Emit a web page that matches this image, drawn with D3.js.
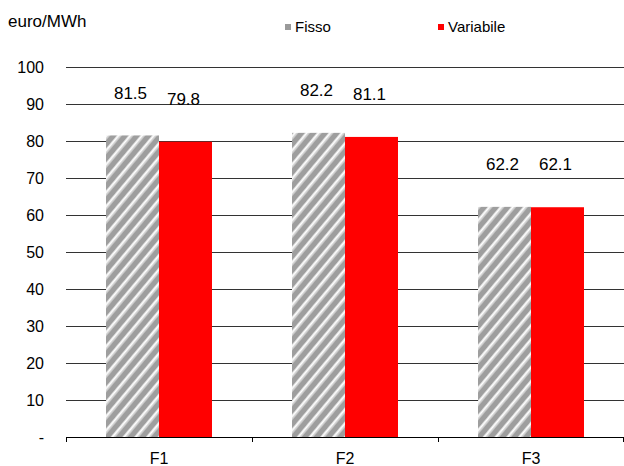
<!DOCTYPE html>
<html>
<head>
<meta charset="utf-8">
<script src="https://cdn.jsdelivr.net/npm/d3@7"></script>
<style>
  html, body { margin: 0; padding: 0; background: #fff; }
  svg { display: block; font-family: "Liberation Sans", Arial, sans-serif; }
</style>
</head>
<body>
<svg id="chart" width="624" height="466"></svg>
<script>
// Average prices by time band, fixed vs variable offers
const categories = ["F1", "F2", "F3"];
const seriesNames = ["Fisso", "Variabile"];
const fissoValues = [81.5, 82.2, 62.2];
const variabileValues = [79.8, 81.1, 62.1];
const yTicks = [0, 10, 20, 30, 40, 50, 60, 70, 80, 90, 100];
const unitLabel = "euro/MWh";

const svg = d3.select("#chart");
const plotLeft = 66, plotRight = 624, plotTop = 67, plotBottom = 437;

const y = d3.scaleLinear().domain([0, 100]).range([plotBottom, plotTop]);
const x0 = d3.scaleBand().domain(categories).range([plotLeft, plotRight]).paddingInner(0).paddingOuter(0);
const x1 = d3.scaleBand().domain(seriesNames).range([0, x0.bandwidth()]).paddingInner(0).paddingOuter(0.755);

// diagonal hatch for the fixed-price series
const defs = svg.append("defs");
const pat = defs.append("pattern")
  .attr("id", "hatch")
  .attr("patternUnits", "userSpaceOnUse")
  .attr("width", 9).attr("height", 9)
  .attr("patternTransform", "rotate(40)");
pat.append("rect").attr("width", 9).attr("height", 9).attr("fill", "#9e9e9e");
pat.append("rect").attr("x", 0).attr("width", 1).attr("height", 9).attr("fill", "#e4e4e4");
pat.append("rect").attr("x", 1).attr("width", 1.6).attr("height", 9).attr("fill", "#ffffff");
pat.append("rect").attr("x", 2.6).attr("width", 1).attr("height", 9).attr("fill", "#e4e4e4");

const fills = { "Fisso": "url(#hatch)", "Variabile": "#ff0000" };

// gridlines
svg.append("g")
  .selectAll("line")
  .data(yTicks.filter(d => d > 0))
  .join("line")
  .attr("x1", plotLeft).attr("x2", plotRight)
  .attr("y1", d => y(d) + 0.5).attr("y2", d => y(d) + 0.5)
  .attr("stroke", "#333").attr("stroke-width", 1);

// y tick labels
svg.append("g")
  .selectAll("text")
  .data(yTicks)
  .join("text")
  .attr("x", 44)
  .attr("y", d => y(d))
  .attr("dy", "0.36em")
  .attr("text-anchor", "end")
  .attr("font-size", 16)
  .attr("fill", "#000")
  .text(d => d === 0 ? "-" : d);

// bars
const rows = categories.map((c, i) => ({ cat: c, values: [
  { name: "Fisso", value: fissoValues[i] },
  { name: "Variabile", value: variabileValues[i] }
]}));

const groups = svg.append("g")
  .selectAll("g")
  .data(rows)
  .join("g")
  .attr("transform", d => `translate(${x0(d.cat)},0)`);

groups.selectAll("rect")
  .data(d => d.values)
  .join("rect")
  .attr("x", d => x1(d.name))
  .attr("width", x1.bandwidth())
  .attr("y", d => y(d.value))
  .attr("height", d => y(0) - y(d.value))
  .attr("fill", d => fills[d.name]);

groups.selectAll("text")
  .data(d => d.values)
  .join("text")
  .attr("x", d => x1(d.name) + x1.bandwidth() / 2 - 2)
  .attr("y", d => y(d.value) - 43)
  .attr("dy", "0.36em")
  .attr("text-anchor", "middle")
  .attr("font-size", 17)
  .attr("fill", "#000")
  .text(d => d.value.toFixed(1));

// x axis
const xAxis = svg.append("g");
xAxis.append("line")
  .attr("x1", plotLeft).attr("x2", plotRight)
  .attr("y1", plotBottom + 0.5).attr("y2", plotBottom + 0.5)
  .attr("stroke", "#000");
const tickPositions = categories.map(c => x0(c)).concat([plotRight - 1]);
xAxis.selectAll("line.tick")
  .data(tickPositions)
  .join("line")
  .attr("class", "tick")
  .attr("x1", d => d + 0.5).attr("x2", d => d + 0.5)
  .attr("y1", plotBottom).attr("y2", plotBottom + 5)
  .attr("stroke", "#000");
xAxis.selectAll("text")
  .data(categories)
  .join("text")
  .attr("x", d => x0(d) + x0.bandwidth() / 2)
  .attr("y", 458)
  .attr("dy", "0.36em")
  .attr("text-anchor", "middle")
  .attr("font-size", 16)
  .text(d => d);

// unit label
svg.append("text")
  .attr("x", 8).attr("y", 21).attr("dy", "0.36em")
  .attr("font-size", 17)
  .text(unitLabel);

// legend
const legendPos = { "Fisso": 285, "Variabile": 438 };
const legend = svg.append("g")
  .selectAll("g")
  .data(seriesNames)
  .join("g")
  .attr("transform", d => `translate(${legendPos[d]},27)`);
legend.append("rect")
  .attr("x", 0).attr("y", -3)
  .attr("width", 6).attr("height", 6)
  .attr("fill", d => d === "Fisso" ? "#9a9a9a" : "#ff0000");
legend.append("text")
  .attr("x", 10).attr("y", 0).attr("dy", "0.36em")
  .attr("font-size", 15)
  .text(d => d);
</script>
</body>
</html>
